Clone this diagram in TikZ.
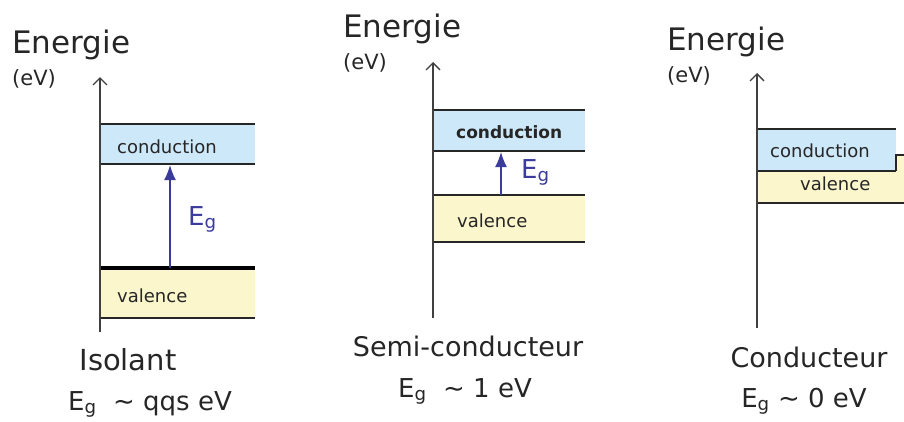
\documentclass[tikz,border=0pt]{standalone}
\usepackage{fontspec}
\setmainfont{DejaVu Sans}
\usetikzlibrary{arrows.meta}
\definecolor{bandc}{HTML}{CDE8F8}
\definecolor{bandv}{HTML}{FBF6CC}
\definecolor{fleche}{HTML}{3B3B9C}
\definecolor{texte}{HTML}{262626}

\begin{document}
\begin{tikzpicture}[x=1pt,y=-1pt,
    every node/.style={inner sep=0pt,text=texte},
    titre/.style={font=\fontsize{31}{33}\selectfont},
    unite/.style={font=\fontsize{21}{23}\selectfont},
    bande/.style={font=\fontsize{18}{20}\selectfont},
    nom/.style={font=\fontsize{27}{29}\selectfont},
    egal/.style={font=\fontsize{26}{28}\selectfont},
    bord/.style={line width=1.8pt,black!85},
    axe/.style={-{Straight Barb[length=7pt,width=14pt]},line width=1.3pt,black!75},
    gap/.style={-{Latex[length=15pt,width=12pt]},line width=1.6pt,fleche}]
\useasboundingbox (0,0) rectangle (904,421);

% bandes
\foreach \x/\xe/\ca/\cb/\va/\vb in {100/255/124/164/268/318, 433/585/110/151/195/242}{
    \fill[bandc] (\x,\ca) rectangle (\xe,\cb);
    \fill[bandv] (\x,\va) rectangle (\xe,\vb);
    \draw[bord] (\x,\ca)--(\xe,\ca) (\x,\cb)--(\xe,\cb) (\x,\va)--(\xe,\va) (\x,\vb)--(\xe,\vb);
}
\draw[line width=3.4pt] (100,268)--(255,268);
\fill[bandv] (757,155) rectangle (904,203);
\fill[bandc] (757,129) rectangle (896,171);
\draw[bord] (757,129)--(896,129) (757,171)--(896,171) (896,171)--(896,155)--(904,155) (757,203)--(904,203);

% axes et titres
\foreach \i/\x/\a/\b/\tx/\ty in {1/100/332/77/12/53, 2/433/318/62/343/37, 3/757/328/73/667/50}{
    \coordinate (o\i) at (\x,\a);
    \coordinate (t\i) at (\x,\b);
    \draw[axe] (o\i)--(t\i);
    \node[titre,anchor=base west] (en\i) at (\tx,\ty) {Energie};
    \node[unite,anchor=base west] (ev\i) at (\tx,\ty+32) {(eV)};
}

\node[bande,anchor=base west] (cond1) at (117,153) {conduction};
\node[bande,anchor=base west] (val1) at (117,302) {valence};
\node[bande,anchor=base west,font=\fontsize{17}{20}\selectfont\bfseries] (cond2) at (456,138) {conduction};
\node[bande,anchor=base west] (val2) at (457,227) {valence};
\node[bande,anchor=base west] (cond3) at (770,157) {conduction};
\node[bande,anchor=base west] (val3) at (800,190) {valence};

% gap
\coordinate (v1) at (170,268);
\coordinate (c1) at (170,165);
\draw[gap] (v1)--(c1);
\node[egal,anchor=base west,text=fleche] (g1) at (188,225) {E\textsubscript{g}};
\coordinate (v2) at (501,195);
\coordinate (c2) at (501,152);
\draw[gap] (v2)--(c2);
\node[egal,anchor=base west,text=fleche] (g2) at (521,178) {E\textsubscript{g}};

% legendes
\node[nom,anchor=base,font=\fontsize{29}{31}\selectfont] (nom1) at (128,370) {Isolant};
\node[egal,anchor=base] (eg1) at (150,410) {E\textsubscript{g}\ \ \textasciitilde\ qqs eV};
\node[nom,anchor=base] (nom2) at (468,356) {Semi-conducteur};
\node[egal,anchor=base] (eg2) at (465,397) {E\textsubscript{g}\ \ \textasciitilde\ 1 eV};
\node[nom,anchor=base] (nom3) at (809,367) {Conducteur};
\node[egal,anchor=base] (eg3) at (804,407) {E\textsubscript{g}\ \textasciitilde\ 0 eV};
\end{tikzpicture}
\end{document}
